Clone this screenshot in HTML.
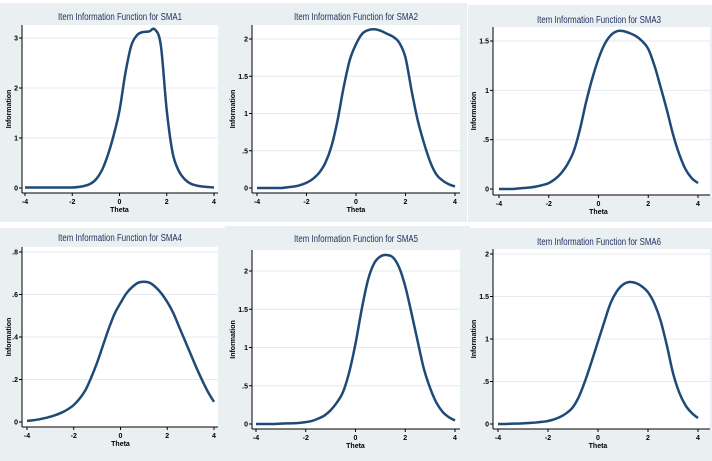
<!DOCTYPE html>
<html><head><meta charset="utf-8"><style>
html,body{margin:0;padding:0;background:#fff;width:712px;height:461px;overflow:hidden}
svg{display:block;font-family:"Liberation Sans",sans-serif}
</style></head><body>
<svg id="fig" width="712" height="461" viewBox="0 0 712 461"></svg>
<script>
const thetas=[-4,-3.75,-3.5,-3.25,-3,-2.75,-2.5,-2.25,-2,-1.75,-1.5,-1.25,-1,-0.75,-0.5,-0.25,0,0.25,0.5,0.75,1,1.25,1.5,1.75,2,2.25,2.5,2.75,3,3.25,3.5,3.75,4];
const sma1=[0.01,0.01,0.01,0.01,0.01,0.01,0.01,0.01,0.01,0.02,0.04,0.08,0.17,0.35,0.65,1.05,1.55,2.3,2.85,3.06,3.12,3.13,3.17,2.85,1.55,0.7,0.35,0.18,0.09,0.05,0.03,0.02,0.01];
const sma2=[0,0,0,0,0,0.01,0.02,0.04,0.07,0.12,0.2,0.33,0.55,0.9,1.35,1.72,1.93,2.07,2.12,2.13,2.11,2.07,2.03,1.95,1.75,1.3,0.9,0.6,0.35,0.18,0.1,0.05,0.02];
const sma3=[0,0,0,0.005,0.01,0.015,0.025,0.04,0.06,0.1,0.16,0.25,0.38,0.6,0.88,1.12,1.32,1.47,1.56,1.6,1.6,1.58,1.55,1.5,1.42,1.25,1.03,0.8,0.55,0.35,0.2,0.11,0.06];
const sma4=[0.005,0.008,0.012,0.018,0.025,0.034,0.045,0.06,0.08,0.11,0.15,0.21,0.28,0.36,0.44,0.51,0.56,0.605,0.635,0.655,0.66,0.655,0.635,0.605,0.565,0.515,0.45,0.385,0.32,0.255,0.195,0.14,0.095];
const sma5=[0,0,0,0,0.005,0.008,0.01,0.015,0.025,0.04,0.07,0.11,0.18,0.28,0.42,0.68,1.05,1.5,1.88,2.1,2.19,2.21,2.18,2.05,1.8,1.45,1.08,0.72,0.47,0.28,0.16,0.09,0.045];
const sma6=[0,0,0.003,0.005,0.008,0.012,0.017,0.025,0.035,0.055,0.085,0.13,0.2,0.33,0.52,0.74,0.97,1.2,1.42,1.56,1.64,1.67,1.66,1.62,1.55,1.42,1.22,0.93,0.6,0.37,0.22,0.13,0.07];
const xTicks=[-4,-2,0,2,4];
const xTickLabels=['-4','-2','0','2','4'];
const yTicks1=[0,1,2,3], yLabels1=['0','1','2','3'];
const yTicks2=[0,0.5,1,1.5,2], yLabels2=['0','.5','1','1.5','2'];
const yTicks3=[0,0.5,1,1.5], yLabels3=['0','.5','1','1.5'];
const yTicks4=[0,0.2,0.4,0.6,0.8], yLabels4=['0','.2','.4','.6','.8'];
const titles=['Item Information Function for SMA1','Item Information Function for SMA2','Item Information Function for SMA3','Item Information Function for SMA4','Item Information Function for SMA5','Item Information Function for SMA6'];

const panels=[
 {name:'sma1',data:sma1,yt:yTicks1,yl:yLabels1,bg:[0,3,227,219],ax:22,top:25,right:218,bot:193,x0:25,x1:214,y0:188,yv:3,y1:38,tx:120,ty:17,yo:11},
 {name:'sma2',data:sma2,yt:yTicks2,yl:yLabels2,bg:[225,3,242,219],ax:252,top:25,right:460,bot:193,x0:257,x1:455,y0:188,yv:2,y1:39,tx:356,ty:17,yo:17},
 {name:'sma3',data:sma3,yt:yTicks3,yl:yLabels3,bg:[468,5,244,217],ax:493,top:27,right:710,bot:195,x0:499,x1:698,y0:189,yv:1.5,y1:41,tx:599,ty:20,yo:17},
 {name:'sma4',data:sma4,yt:yTicks4,yl:yLabels4,bg:[0,228,228,233],ax:22,top:247,right:218,bot:427,x0:27,x1:214,y0:422,yv:0.8,y1:252,tx:120,ty:238,yo:11},
 {name:'sma5',data:sma5,yt:yTicks2,yl:yLabels2,bg:[225,226,245,235],ax:252,top:250,right:460,bot:429,x0:256,x1:455,y0:424,yv:2,y1:271,tx:356,ty:239,yo:17},
 {name:'sma6',data:sma6,yt:yTicks2,yl:yLabels2,bg:[468,228,244,233],ax:493,top:249,right:710,bot:429,x0:498,x1:698,y0:424,yv:2,y1:254,tx:599,ty:242,yo:17}
];
const NS='http://www.w3.org/2000/svg';
const svg=document.getElementById('fig');
function mk(tag,attrs,parent){const e=document.createElementNS(NS,tag);for(const k in attrs)e.setAttribute(k,attrs[k]);(parent||svg).appendChild(e);return e;}

panels.forEach((p,i)=>{
  const g=mk('g',{});
  
  
  const sx=v=>p.x0+(v+4)/8*(p.x1-p.x0);
  const sy=v=>p.y0-(v/p.yv)*(p.y0-p.y1);
  const bg=mk('rect',{x:p.bg[0],y:p.bg[1],width:p.bg[2],height:p.bg[3],fill:'#eaeff2'},g);
  
  
  const pa=mk('rect',{x:p.ax,y:p.top,width:p.right-p.ax,height:p.bot-p.top,fill:'#fff'},g);
  
  
  const t=mk('text',{x:p.tx,y:p.ty+3,'text-anchor':'middle','font-size':10,fill:'#1e2d5c',textLength:124,lengthAdjust:'spacingAndGlyphs'},g);
  t.textContent=titles[i];
  
  
  p.yt.forEach((v,j)=>{
    const y=sy(v);
    if(j>0){const gl=mk('line',{x1:p.ax,x2:p.right,y1:y,y2:y,stroke:'#e6eaee','stroke-width':1},g);
      
      }
    mk('line',{x1:p.ax-3,x2:p.ax,y1:y,y2:y,stroke:'#000','stroke-width':1},g);
    const tl=mk('text',{x:p.ax-4,y:y+2.5,'text-anchor':'end','font-size':7,'font-weight':'bold',fill:'#000'},g);
    tl.textContent=p.yl[j];
    
    
  });
  xTicks.forEach((v,j)=>{
    const x=sx(v);
    mk('line',{x1:x,x2:x,y1:p.bot,y2:p.bot+3,stroke:'#000','stroke-width':1},g);
    const tl=mk('text',{x:x,y:p.bot+11,'text-anchor':'middle','font-size':7,'font-weight':'bold',fill:'#000'},g);
    tl.textContent=xTickLabels[j];
    
    
  });
  mk('line',{x1:p.ax,x2:p.ax,y1:p.top,y2:p.bot,stroke:'#000','stroke-width':1},g);
  mk('line',{x1:p.ax,x2:p.right,y1:p.bot,y2:p.bot,stroke:'#000','stroke-width':1},g);
  const xt=mk('text',{x:(p.x0+p.x1)/2,y:p.bot+19,'text-anchor':'middle','font-size':7,'font-weight':'bold',fill:'#000'},g);
  xt.textContent='Theta';
  
  
  const yx=p.ax-p.yo, yy=(p.top+p.bot)/2;
  const yt=mk('text',{x:yx,y:yy,'text-anchor':'middle','font-size':7,'font-weight':'bold',fill:'#000',transform:`rotate(-90 ${yx} ${yy})`},g);
  yt.textContent='Information';
  
  
  const pts=thetas.map((th,k)=>[sx(th),sy(p.data[k])]);
  let d='M'+pts[0][0].toFixed(2)+','+pts[0][1].toFixed(2);
  for(let k=0;k<pts.length-1;k++){
    const p0=pts[Math.max(0,k-1)],p1=pts[k],p2=pts[k+1],p3=pts[Math.min(pts.length-1,k+2)];
    const c1=[p1[0]+(p2[0]-p0[0])/6,p1[1]+(p2[1]-p0[1])/6];
    const c2=[p2[0]-(p3[0]-p1[0])/6,p2[1]-(p3[1]-p1[1])/6];
    d+=` C${c1[0].toFixed(2)},${c1[1].toFixed(2)} ${c2[0].toFixed(2)},${c2[1].toFixed(2)} ${p2[0].toFixed(2)},${p2[1].toFixed(2)}`;
  }
  const line=mk('path',{d:d,fill:'none',stroke:'#1f4a78','stroke-width':2.5,'stroke-linejoin':'round'},g);
  
  
});
</script>
</body></html>
